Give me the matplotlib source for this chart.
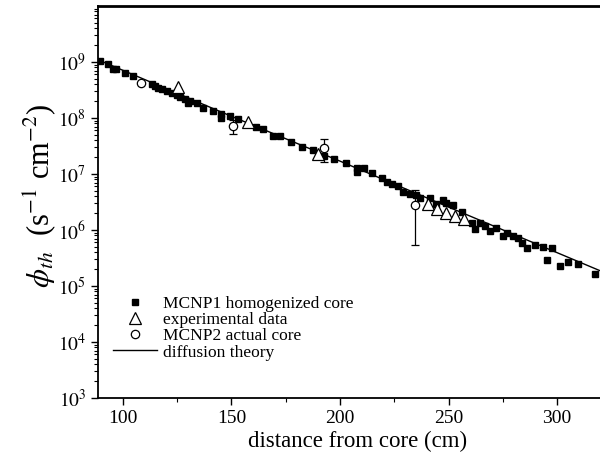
import matplotlib
matplotlib.use("Agg")
import matplotlib.pyplot as plt
import numpy as np
from matplotlib.lines import Line2D
from matplotlib.ticker import LogLocator, MultipleLocator, FixedLocator, NullFormatter

plt.rcParams['font.family'] = ['Liberation Serif', 'DejaVu Serif']
plt.rcParams['mathtext.fontset'] = 'stix'

# MCNP1 homogenized core: distance (cm), log10 flux
mcnp1_x = [89.4, 93.1, 95.4, 96.8, 100.9, 104.6, 113.4, 114.7, 116.1, 118.0, 120.3, 122.6,
           124.9, 126.3, 128.6, 129.9, 130.9, 134.1, 136.9, 141.5, 145.2, 145.2, 149.3, 153.0,
           161.3, 164.5, 169.1, 172.4, 177.4, 182.5, 187.6, 192.6, 197.2, 202.8, 207.8, 207.8,
           211.1, 214.7, 219.4, 221.7, 224.0, 226.7, 229.0, 232.3, 235.0, 236.9, 241.5, 244.2,
           247.5, 248.8, 252.1, 256.2, 260.8, 262.2, 264.5, 266.8, 269.1, 271.9, 275.1, 276.9,
           279.7, 282.0, 283.9, 286.2, 289.9, 293.5, 297.7, 295.4, 301.4, 305.1, 309.7, 317.5]
mcnp1_logy = [9.02, 8.96, 8.87, 8.87, 8.80, 8.75, 8.61, 8.57, 8.54, 8.52, 8.48, 8.45,
              8.41, 8.38, 8.34, 8.27, 8.31, 8.27, 8.18, 8.13, 8.07, 8.00, 8.04, 7.99,
              7.84, 7.81, 7.68, 7.68, 7.58, 7.49, 7.42, 7.33, 7.27, 7.19, 7.11, 7.04,
              7.10, 7.01, 6.92, 6.86, 6.83, 6.79, 6.67, 6.65, 6.62, 6.58, 6.58, 6.47,
              6.54, 6.49, 6.44, 6.33, 6.12, 6.01, 6.12, 6.08, 5.98, 6.03, 5.90, 5.94,
              5.90, 5.85, 5.76, 5.67, 5.74, 5.69, 5.67, 5.46, 5.35, 5.42, 5.39, 5.21]

# experimental data
exp_x = [125.3, 157.6, 189.9, 240.6, 244.7, 248.8, 253.0, 257.1]
exp_y = [3.6e8, 8.5e7, 2.25e7, 2.95e6, 2.4e6, 2.05e6, 1.8e6, 1.55e6]

# MCNP2 actual core
mc2_x = [108.3, 150.7, 192.6, 234.6]
mc2_y = [4.3e8, 7.2e7, 2.95e7, 2.85e6]
mc2_err = [0.0, 2.0e7, 1.3e7, 2.3e6]

# diffusion theory
diff_x = [88.5, 150.0, 200.0, 250.0, 320.0]
diff_logy = [9.04, 8.03, 7.23, 6.41, 5.27]

labels = ['MCNP1 homogenized core', 'experimental data', 'MCNP2 actual core', 'diffusion theory']

fig = plt.figure(figsize=(6.0, 4.65), dpi=100)
ax = fig.add_axes([98/600, 1-398/465, 1-98/600, (398-6)/465])

ax.plot(diff_x, 10**np.array(diff_logy), color='black', lw=1.0, zorder=2)
ax.plot(mcnp1_x, 10**np.array(mcnp1_logy), ls='none', marker='s', ms=4.8, color='black', zorder=3)
ax.plot(exp_x, exp_y, ls='none', marker='^', ms=9, mfc='white', mec='black', mew=0.9, zorder=4)
ax.errorbar(mc2_x, mc2_y, yerr=mc2_err, fmt='o', ms=6, mfc='white', mec='black', mew=0.9,
            ecolor='black', elinewidth=0.9, capsize=3, capthick=0.9, zorder=5)

ax.set_yscale('log')
ax.set_xlim(88.5, 319.8)
ax.set_ylim(1e3, 1e10)

ax.xaxis.set_major_locator(MultipleLocator(50))
ax.xaxis.set_minor_locator(MultipleLocator(25))
ax.yaxis.set_major_locator(FixedLocator([1e3, 1e4, 1e5, 1e6, 1e7, 1e8, 1e9]))
ax.yaxis.set_minor_locator(LogLocator(base=10, subs=np.arange(2, 10), numticks=20))
ax.yaxis.set_minor_formatter(NullFormatter())
ax.set_yticklabels([r'$10^{%d}$' % e for e in range(3, 10)])

ax.tick_params(axis='both', which='major', direction='out', length=5, width=1.0, labelsize=14,
               top=False, right=False)
ax.tick_params(axis='both', which='minor', direction='out', length=3, width=0.8,
               top=False, right=False)

for s in ['left', 'bottom']:
    ax.spines[s].set_linewidth(1.3)
ax.spines['top'].set_linewidth(2.0)
ax.spines['right'].set_visible(False)

ax.set_xlabel('distance from core (cm)', fontsize=16.5)
ax.xaxis.set_label_coords((358-98)/502, -0.083)
ax.set_ylabel(r'$\phi_{th}$  (s$^{-1}$ cm$^{-2}$)', fontsize=22)
ax.yaxis.set_label_coords((58-98)/502, (398-196)/392)

handles = [
    Line2D([], [], ls='none', marker='s', ms=4.8, color='black'),
    Line2D([], [], ls='none', marker='^', ms=8, mfc='white', mec='black', mew=0.9),
    Line2D([], [], ls='none', marker='o', ms=6, mfc='white', mec='black', mew=0.9),
    Line2D([], [], color='black', lw=1.0),
]
leg = ax.legend(handles, labels, loc='lower left',
                bbox_to_anchor=(0.0, 0.058), frameon=False, fontsize=12.5,
                handlelength=2.55, handletextpad=0.35, labelspacing=0.0, borderaxespad=0.45)

fig.savefig('out.png', dpi=100)
